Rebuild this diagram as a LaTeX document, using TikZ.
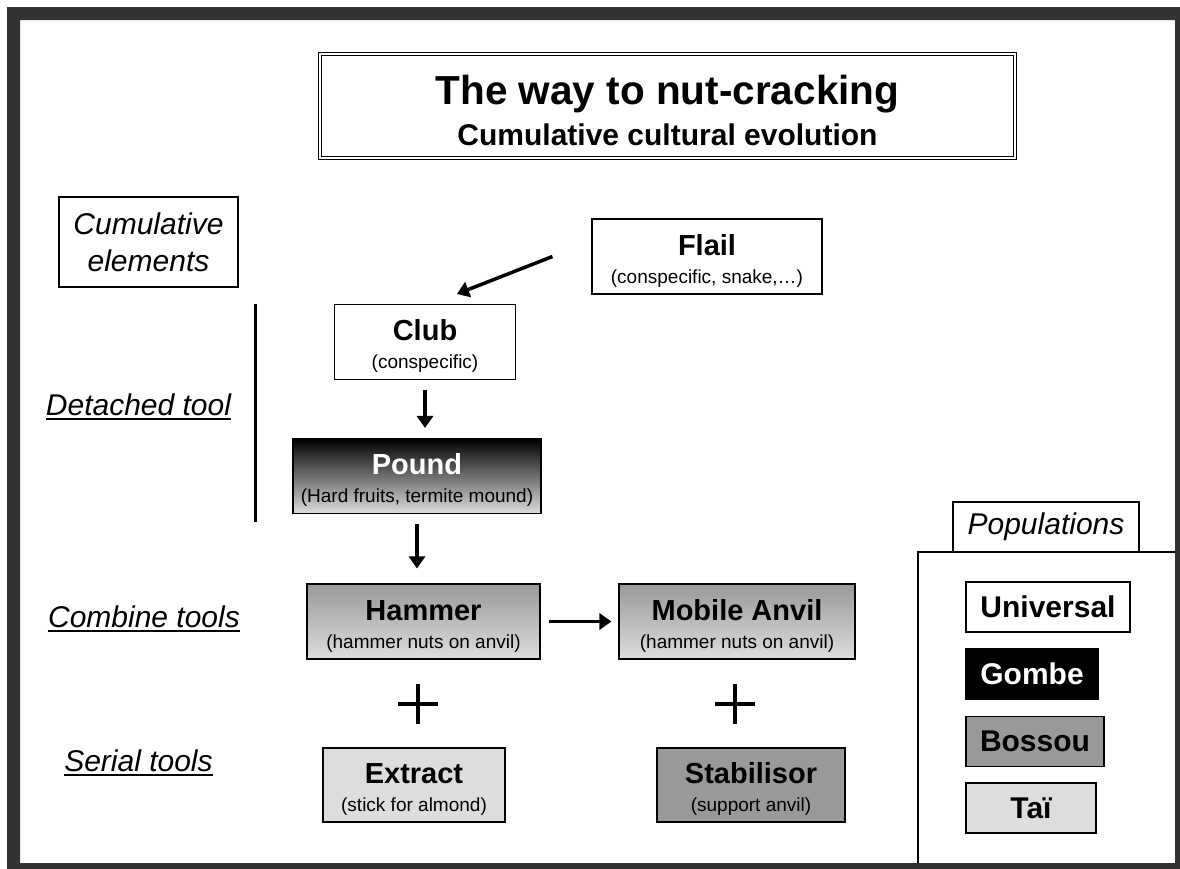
\documentclass[tikz,border=0pt]{standalone}
\usepackage{fontspec}
\setmainfont{Liberation Sans}
\usepackage{xcolor}
\definecolor{frame-dark}{RGB}{51,51,51}
\definecolor{gray-mid}{RGB}{153,153,153}
\definecolor{gray-light}{RGB}{221,221,221}
\usepackage{tikz}
\usetikzlibrary{arrows.meta}

\newcommand{\toolname}[1]{{\bfseries\fontsize{29}{28}\selectfont #1}}

\begin{document}
\begin{tikzpicture}[
    x=1pt, y=-1pt,
    every node/.style={inner sep=0pt},
    toolbox/.style={draw=black, line width=1.1pt, align=center, minimum height=75pt, text height=57pt, font=\fontsize{19}{28}\selectfont},
    rowlabel/.style={font=\fontsize{30}{36}\selectfont\itshape, anchor=base},
    popbox/.style={draw=black, line width=1.2pt, minimum height=50pt, font=\fontsize{30}{36}\selectfont\bfseries},
    arr/.style={line width=3.5pt, -{Triangle[length=12pt,width=16pt]}},
    plussign/.style={line width=3.5pt}
]

\useasboundingbox (0,0) rectangle (1180,868);
\fill[white] (0,0) rectangle (1180,868);

% Title
\node[
    draw=black, double=white, double distance=2pt, line width=1.2pt,
    fill=white, minimum width=695pt, minimum height=104pt,
    align=center, text height=80pt,
    font=\bfseries\fontsize{30}{41}\selectfont
] (title) at (667.5,106) {{\fontsize{40.5}{41}\selectfont The way to nut-cracking}\\Cumulative cultural evolution};

% Row labels
\node[draw=black, line width=1.1pt, minimum width=179pt, minimum height=90pt, align=center,
    font=\fontsize{30}{37}\selectfont\itshape] (cumul) at (148.5,242) {Cumulative\\elements};
\node[rowlabel] (detached) at (138.5,415) {Detached tool};
\node[rowlabel] (combine) at (144,627) {Combine tools};
\node[rowlabel] (serial) at (138.5,771) {Serial tools};
\foreach \lab in {detached,combine,serial}
    \draw[line width=2.2pt] ([yshift=-4pt]\lab.base west) -- ([yshift=-4pt]\lab.base east);

% Bracket of the detached tools
\draw[line width=3pt] (255,304) -- (255,522);

% Tools
\node[toolbox, minimum width=230pt] (flail) at (707,256.5) {\toolname{Flail}\\(conspecific, snake,…)};
\node[toolbox, minimum width=181pt] (club) at (425,342) {\toolname{Club}\\(conspecific)};
\node[toolbox, minimum width=248pt, top color=black, bottom color=gray-light] (pound) at (417,476) {\toolname{\color{white}Pound}\\(Hard fruits, termite mound)};
\node[toolbox, minimum width=233pt, top color=gray-mid, bottom color=gray-light] (hammer) at (423.5,621.5) {\toolname{Hammer}\\(hammer nuts on anvil)};
\node[toolbox, minimum width=236pt, top color=gray-mid, bottom color=gray-light] (anvil) at (737,621.5) {\toolname{Mobile Anvil}\\(hammer nuts on anvil)};
\node[toolbox, minimum width=182pt, minimum height=74pt, fill=gray-light] (extract) at (414,785) {\toolname{Extract}\\(stick for almond)};
\node[toolbox, minimum width=188pt, minimum height=74pt, fill=gray-mid] (stabil) at (751,785) {\toolname{Stabilisor}\\(support anvil)};

% Arrows
\draw[arr] ([xshift=-39pt]flail.west) -- ([xshift=32pt,yshift=10pt]club.north);
\draw[arr, shorten <=10pt, shorten >=10pt] (club.south) -- (club.south |- pound.north);
\draw[arr, shorten <=10pt, shorten >=15pt] (pound.south) -- (pound.south |- hammer.north);
\draw[arr, shorten <=8pt, shorten >=7pt] (hammer.east) -- (anvil.west);

% Plus signs
\coordinate (plusL) at (418,704);
\coordinate (plusR) at (735,704);
\foreach \p in {plusL,plusR}
    \draw[plussign] ([xshift=-20pt]\p) -- ([xshift=20pt]\p) ([yshift=20pt]\p) -- ([yshift=-20pt]\p);

% Populations panel
\draw[line width=1.2pt] (918,900) -- (918,552) -- (1200,552);
\node[draw=black, line width=1.2pt, fill=white, minimum width=186pt, minimum height=50pt,
    font=\fontsize{30}{36}\selectfont\itshape] (poplabel) at (1046,527) {Populations};
\node[popbox, minimum width=164pt, fill=white] (universal) at (1048,607) {Universal};
\node[popbox, minimum width=132pt, fill=black, text=white] (gombe) at (1032,674) {Gombe};
\node[popbox, minimum width=138pt, fill=gray-mid] (bossou) at (1035,741.5) {Bossou};
\node[popbox, minimum width=130pt, fill=gray-light] (tai) at (1031,808) {Taï\hspace{26pt}};

% Frame
\fill[frame-dark, even odd rule] (7,7) rectangle (1195,885) (20,20) rectangle (1175,863);

\end{tikzpicture}
\end{document}
